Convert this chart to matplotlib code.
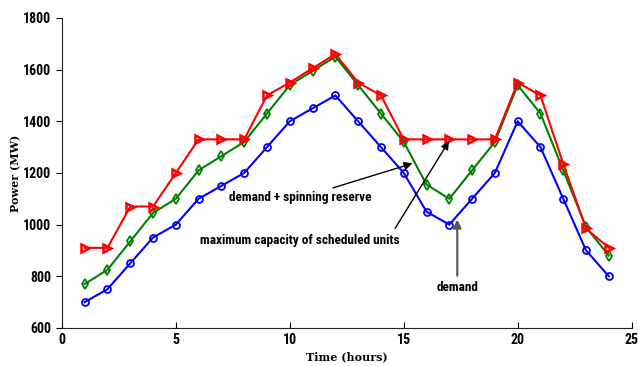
import matplotlib
matplotlib.use('Agg')
import matplotlib.pyplot as plt

# hourly data
hours = list(range(1, 25))
demand = [700, 750, 850, 950, 1000, 1100, 1150, 1200, 1300, 1400, 1450, 1500,
          1400, 1300, 1200, 1050, 1000, 1100, 1200, 1400, 1300, 1100, 900, 800]
demand_reserve = [770, 825, 935, 1045, 1100, 1210, 1265, 1320, 1430, 1540, 1595, 1650,
                  1540, 1430, 1320, 1155, 1100, 1210, 1320, 1540, 1430, 1210, 990, 880]
max_capacity = [910, 910, 1070, 1070, 1200, 1330, 1330, 1330, 1500, 1550, 1605, 1660,
                1550, 1500, 1330, 1330, 1330, 1330, 1330, 1550, 1500, 1235, 985, 910]

xticks = [0, 5, 10, 15, 20, 25]
yticks = [600, 800, 1000, 1200, 1400, 1600, 1800]

narrow = ['Roboto Condensed', 'Liberation Sans Narrow', 'Liberation Sans']
serif = ['DejaVu Serif']

fig = plt.figure(figsize=(6.38, 3.66), dpi=100)
ax = fig.add_axes([0.097, 0.104, 0.893, 0.847])

ax.plot(hours, demand, color='blue', lw=1.5, marker='o', ms=5, mfc='none', mew=1.3)
ax.plot(hours, demand_reserve, color='green', lw=1.5, marker='d', ms=5, mfc='none', mew=1.3)
ax.plot(hours, max_capacity, color='red', lw=1.5, marker='>', ms=6, mfc='none', mew=1.8)

ax.set_xlim(0, 25)
ax.set_ylim(600, 1800)
ax.set_xticks(xticks)
ax.set_yticks(yticks)
for s in ['top', 'right']:
    ax.spines[s].set_visible(False)
ax.spines['left'].set_color('#222222')
ax.spines['bottom'].set_color('#222222')
ax.tick_params(axis='x', direction='in', length=4)
ax.tick_params(axis='y', direction='out', length=4)
for lbl in ax.get_xticklabels() + ax.get_yticklabels():
    lbl.set_family(narrow)
    lbl.set_fontweight('bold')
    lbl.set_fontsize(10)

ax.set_xlabel('Time (hours)', family=serif, fontweight='bold', fontsize=8, labelpad=3)
ax.set_ylabel('Power (MW)', family=serif, fontweight='bold', fontsize=8)
ax.yaxis.set_label_coords(-0.072, 0.5)

arr = dict(arrowstyle='-|>', color='black', lw=1, mutation_scale=12)
ax.annotate('demand + spinning reserve', xy=(15.5, 1240), xytext=(10.45, 1103),
            ha='center', va='center', family=narrow, fontweight='bold', fontsize=9.5,
            arrowprops=arr)
ax.annotate('maximum capacity of scheduled units', xy=(17.05, 1332), xytext=(10.45, 940),
            ha='center', va='center', family=narrow, fontweight='bold', fontsize=9.5,
            arrowprops=dict(arr, relpos=(0.96, 1.0)))
ax.annotate('demand', xy=(17.35, 1030), xytext=(17.35, 755),
            ha='center', va='center', family=narrow, fontweight='bold', fontsize=9.5,
            arrowprops=dict(arrowstyle='-|>', color='#555555', lw=1.5, mutation_scale=12))

fig.savefig('out.png', dpi=100)
